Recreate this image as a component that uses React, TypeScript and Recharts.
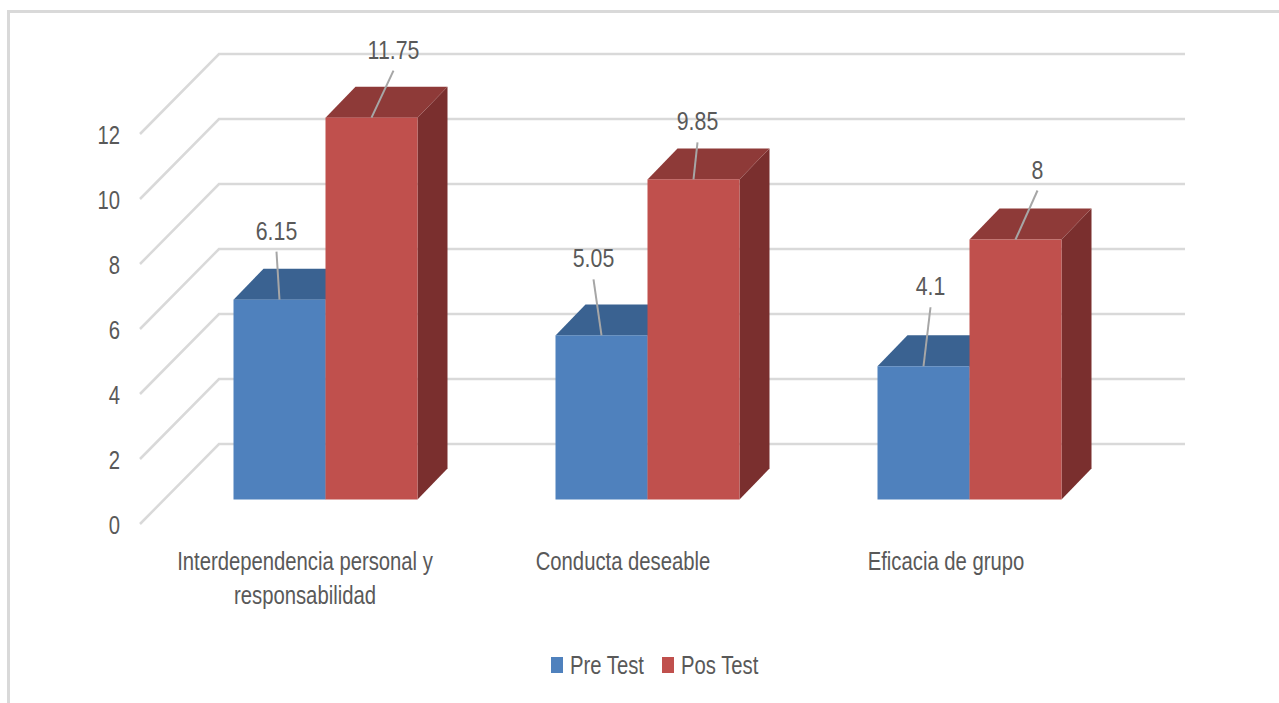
import React from "react";
import { BarChart, Bar, XAxis, YAxis, CartesianGrid, Legend, LabelList } from "recharts";

const categories = ["Interdependencia personal y responsabilidad", "Conducta deseable", "Eficacia de grupo"];
const preTest = [6.15, 5.05, 4.1];
const posTest = [11.75, 9.85, 8];
const yTicks = [0, 2, 4, 6, 8, 10, 12];

// where each data label sits relative to the top of its bar: [dx, dy of text, dy of leader end]
const preLabelOffsets = [[-3, -69, -48], [-8, -77, -56], [7, -80, -59]];
const posLabelOffsets = [[22, -68, -47], [4, -58, -37], [22, -70, -49]];
const categoryShift = [4, 0, 1];

const data = categories.map((name, i) => ({ name, pre: preTest[i], pos: posTest[i] }));

const FONT = "'Liberation Sans', sans-serif";
const TEXT = "#595959";
const DEPTH_X = 30;
const DEPTH_Y = 31;
const SHIFT_X = 24.5;
const SHIFT_Y = -24.5;

// the original text is a stretched narrow face, so squeeze it horizontally
const Narrow = ({ x, y, anchor = "middle", squeeze = 0.78, children }: any) => (
  <text
    transform={`translate(${x},${y}) scale(${squeeze},1)`}
    textAnchor={anchor}
    fontFamily={FONT}
    fontSize={26}
    fill={TEXT}
  >
    {children}
  </text>
);

const Box3D = ({ x, y, width, height, front, top, side }: any) => {
  const l = x + SHIFT_X;
  const r = l + width;
  const t = y + SHIFT_Y;
  const b = t + height;
  return (
    <g>
      <polygon points={`${r},${t} ${r + DEPTH_X},${t - DEPTH_Y} ${r + DEPTH_X},${b - DEPTH_Y} ${r},${b}`} fill={side} />
      <polygon points={`${l},${t} ${l + DEPTH_X},${t - DEPTH_Y} ${r + DEPTH_X},${t - DEPTH_Y} ${r},${t}`} fill={top} />
      <rect x={l} y={t} width={width} height={height} fill={front} />
    </g>
  );
};

const makeLabel = (offsets: number[][]) => (props: any) => {
  const { x, y, width, value, index } = props;
  const [dx, textDy, lineDy] = offsets[index];
  const cx = x + SHIFT_X + width / 2;
  const top = y + SHIFT_Y;
  return (
    <g>
      <line x1={cx} y1={top} x2={cx + dx} y2={top + lineDy} stroke="#a6a6a6" strokeWidth={2} />
      <Narrow x={cx + dx} y={top + textDy + 9} squeeze={0.82}>
        {value}
      </Narrow>
    </g>
  );
};

const wallLine = (props: any) => {
  const { x1, x2, y1 } = props;
  return (
    <polyline
      key={`wall-${y1}`}
      points={`${x1},${y1} ${x1 + 79},${y1 - 80} ${x2 + 79},${y1 - 80}`}
      fill="none"
      stroke="#d9d9d9"
      strokeWidth={2.5}
    />
  );
};

const CategoryTick = ({ x, y, payload, index }: any) => {
  const words = String(payload.value).split(" ");
  const lines = words.length > 3 ? [words.slice(0, 3).join(" "), words.slice(3).join(" ")] : [words.join(" ")];
  return (
    <g>
      {lines.map((line, i) => (
        <Narrow key={i} x={x + categoryShift[index]} y={y + 38 + i * 34}>
          {line}
        </Narrow>
      ))}
    </g>
  );
};

const ValueTick = ({ x, y, payload }: any) => (
  <Narrow x={x} y={y + 10} anchor="end">
    {payload.value}
  </Narrow>
);

const LegendContent = ({ payload }: any) => (
  <svg width={240} height={30} style={{ display: "block" }}>
    {(payload || []).map((item: any, i: number) => (
      <g key={item.value} transform={`translate(${i * 111},0)`}>
        <rect x={0} y={6} width={12} height={16} fill={item.color} />
        <Narrow x={19} y={23} anchor="start">
          {item.value}
        </Narrow>
      </g>
    ))}
  </svg>
);

export default function App() {
  return (
    <div style={{ position: "absolute", left: 0, top: 0, width: 1279, height: 703, background: "#fff", overflow: "hidden" }}>
      <div style={{ position: "absolute", left: 7, top: 10, width: 1272, height: 693, borderTop: "3px solid #d9d9d9", borderLeft: "3px solid #d9d9d9" }} />
      <BarChart
        width={1279}
        height={703}
        data={data}
        barSize={92}
        barGap={0}
        margin={{ top: 134, right: 173, bottom: 22, left: 90 }}
        style={{ position: "absolute", left: 0, top: 0 }}
      >
        <CartesianGrid vertical={false} horizontal={wallLine} />
        <XAxis dataKey="name" axisLine={false} tickLine={false} height={127} interval={0} tick={<CategoryTick />} />
        <YAxis
          width={50}
          domain={[0, 12]}
          ticks={yTicks}
          axisLine={false}
          tickLine={false}
          tickMargin={14}
          tick={<ValueTick />}
        />
        <Legend
          verticalAlign="bottom"
          height={30}
          itemSorter={null}
          content={<LegendContent />}
          wrapperStyle={{ left: 551, width: 240, bottom: 22 }}
        />
        <Bar
          dataKey="pre"
          name="Pre Test"
          fill="#4f81bd"
          isAnimationActive={false}
          shape={(p: any) => <Box3D {...p} front="#4f81bd" top="#3a6291" side="#3a6291" />}
        >
          <LabelList dataKey="pre" content={makeLabel(preLabelOffsets)} />
        </Bar>
        <Bar
          dataKey="pos"
          name="Pos Test"
          fill="#c0504d"
          isAnimationActive={false}
          shape={(p: any) => <Box3D {...p} front="#c0504d" top="#8e3a38" side="#7a2f2e" />}
        >
          <LabelList dataKey="pos" content={makeLabel(posLabelOffsets)} />
        </Bar>
      </BarChart>
    </div>
  );
}
